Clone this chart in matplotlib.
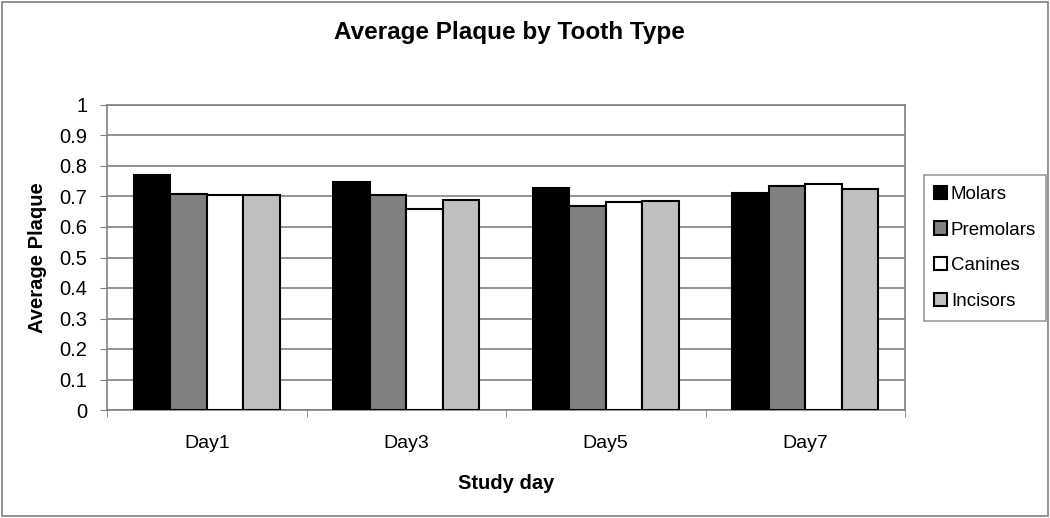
import matplotlib
matplotlib.use('Agg')
import matplotlib.pyplot as plt
from matplotlib.patches import Rectangle
import numpy as np

plt.rcParams['font.family'] = ['Liberation Sans', 'DejaVu Sans']

days = ['Day1', 'Day3', 'Day5', 'Day7']
tooth_types = ['Molars', 'Premolars', 'Canines', 'Incisors']
molars = [0.77, 0.747, 0.727, 0.71]
premolars = [0.707, 0.705, 0.67, 0.733]
canines = [0.705, 0.659, 0.682, 0.74]
incisors = [0.705, 0.689, 0.685, 0.725]
colors = ['#000000', '#808080', '#ffffff', '#c0c0c0']

series = [molars, premolars, canines, incisors]

fig = plt.figure(figsize=(10.5, 5.18), dpi=100)
ax = fig.add_axes([107 / 1050, 1 - 410 / 518, (905 - 107) / 1050, (410 - 105) / 518])

# outer frame of the chart
fig.patches.append(Rectangle((2 / 1050, 2 / 518), 1 - 4 / 1050, 1 - 4 / 518,
                             transform=fig.transFigure, fill=False,
                             edgecolor='#808080', lw=1.2))

x = np.arange(len(days))
bw = 0.183
for i, vals in enumerate(series):
    ax.bar(x + (i - 1.5) * bw, vals, bw, color=colors[i], edgecolor='black',
           lw=1.5, label=tooth_types[i], zorder=3)

ax.set_xlim(-0.5, len(days) - 0.5)
ax.set_ylim(0, 1)
ax.set_yticks(np.arange(0, 1.01, 0.1))
ax.set_yticklabels(['0', '0.1', '0.2', '0.3', '0.4', '0.5', '0.6', '0.7', '0.8', '0.9', '1'])
ax.set_xticks(x)
ax.set_xticklabels(days)
ax.set_xticks(np.arange(-0.5, len(days), 1), minor=True)
ax.tick_params(axis='x', which='major', length=0, labelsize=14, pad=18)
ax.tick_params(axis='x', which='minor', length=5, color='#808080', direction='out')
ax.tick_params(axis='y', length=5, color='#808080', direction='out', labelsize=14.5, pad=9)
ax.grid(axis='y', color='#808080', lw=1.2, zorder=0)
for s in ax.spines.values():
    s.set_color('#808080')
    s.set_linewidth(1.2)

ax.set_xlabel('Study day', fontsize=14.5, fontweight='bold', labelpad=16)
ax.set_ylabel('Average Plaque', fontsize=14.5, fontweight='bold', labelpad=9)
fig.text(0.485, 1 - 33 / 518, 'Average Plaque by Tooth Type', ha='center', va='center',
         fontsize=17.5, fontweight='bold')

handles = [Rectangle((0, 0), 1, 1, facecolor=c, edgecolor='black', lw=1.5) for c in colors]
leg = fig.legend(handles, tooth_types, loc='center', bbox_to_anchor=(985 / 1050, 1 - 248 / 518),
                 fontsize=13.5, frameon=True, fancybox=False, edgecolor='#808080',
                 handlelength=0.7, handleheight=0.7, handletextpad=0.2,
                 labelspacing=1.0, borderpad=0.55, borderaxespad=0)
leg.get_frame().set_linewidth(1.2)

plt.savefig('out.png', dpi=100)
